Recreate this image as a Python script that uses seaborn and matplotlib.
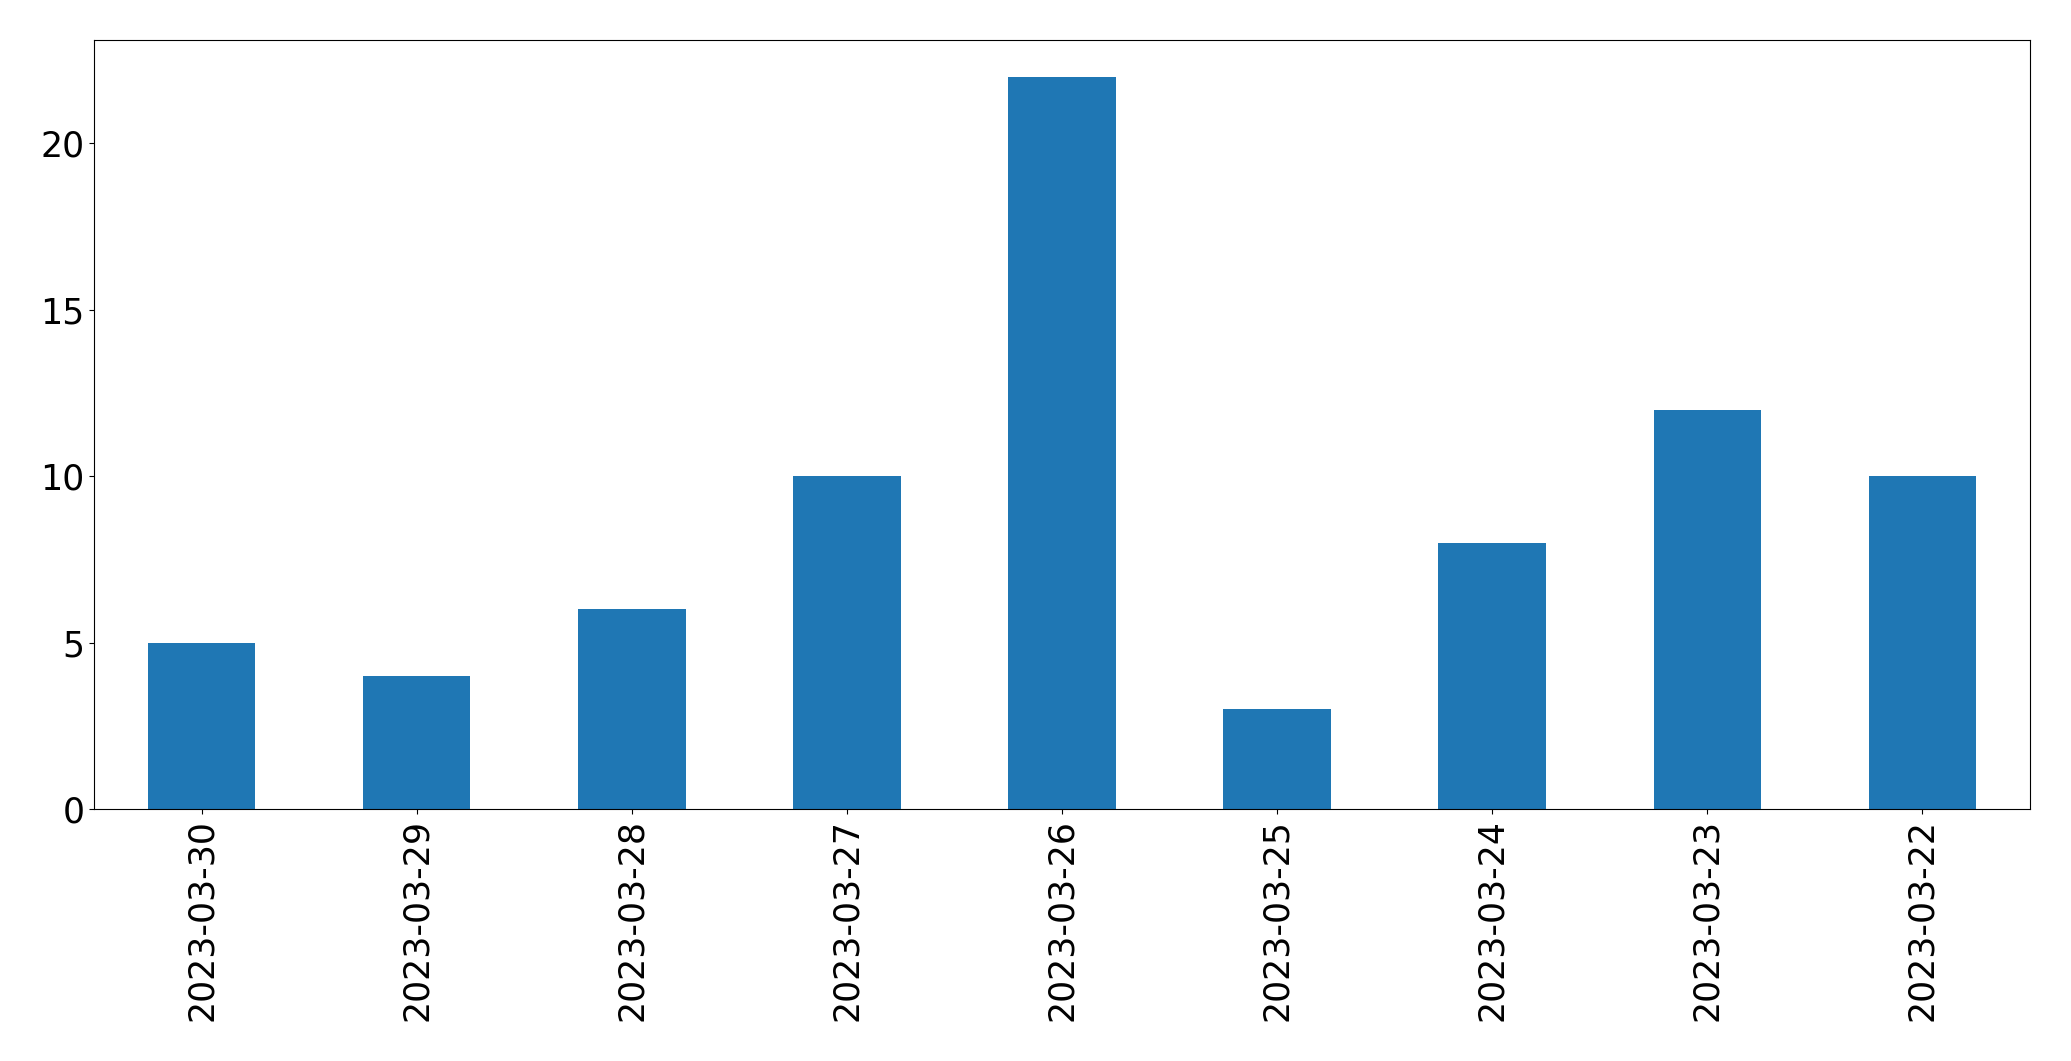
import matplotlib
matplotlib.use("Agg")
import matplotlib.pyplot as plt
import seaborn as sns
import pandas as pd

# daily counts, newest first (as in the source chart)
dates = ["2023-03-30", "2023-03-29", "2023-03-28", "2023-03-27", "2023-03-26",
         "2023-03-25", "2023-03-24", "2023-03-23", "2023-03-22"]
counts = [5, 4, 6, 10, 22, 3, 8, 12, 10]

df = pd.DataFrame({"date": dates, "count": counts})

fig = plt.figure(figsize=(20.71, 10.61), dpi=100)
ax = fig.add_axes([94 / 2071, 1 - 809 / 1061, (2030 - 94) / 2071, (809 - 40) / 1061])

sns.barplot(data=df, x="date", y="count", order=dates, color="#1f77b4",
            saturation=1, width=0.5, ax=ax)

ax.set_xlim(-0.5, len(dates) - 0.5)
ax.set_ylim(0, max(counts) * 1.05)
ax.set_yticks([0, 5, 10, 15, 20])
ax.set_xlabel("")
ax.set_ylabel("")
ax.tick_params(axis="both", labelsize=25)
ax.tick_params(axis="x", labelrotation=90)

fig.savefig("out.png", dpi=100)
